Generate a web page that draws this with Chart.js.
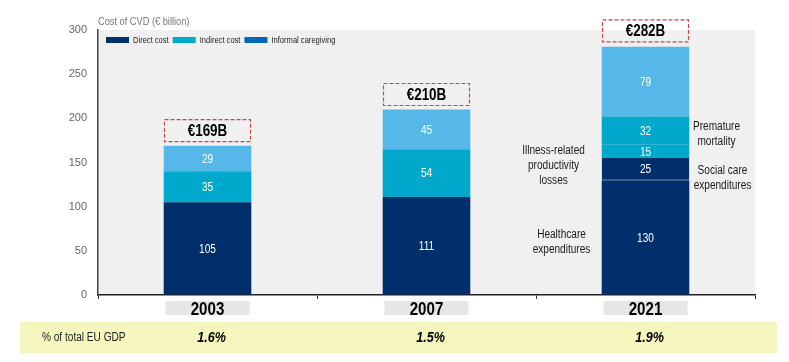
<!DOCTYPE html>
<html>
<head>
<meta charset="utf-8">
<script src="https://cdn.jsdelivr.net/npm/chart.js@4.4.1/dist/chart.umd.min.js"></script>
<style>
    html, body { margin: 0; padding: 0; background: #fff; }
    #contenedor { width: 789px; height: 362px; position: relative; }
</style>
</head>
<body>
<div id="contenedor"><canvas id="graficaCVD"></canvas></div>
<script>
// Datos
const anios = ['2003', '2007', '2021'];
const sanidad = [105, 111, 130];
const cuidadosSociales = [null, null, 25];
const perdidasProductividad = [null, null, 15];
const mortalidadPrematura = [35, 54, 32];
const cuidadoInformal = [29, 45, 79];
const totalesValor = [169, 210, 282];
const totalesTexto = ['€169B', '€210B', '€282B'];
const pibUE = ['1.6%', '1.5%', '1.9%'];
const leyendaTextos = ['Direct cost', 'Indirect cost', 'Informal caregiving'];

const AZUL_OSCURO = '#002f6b';
const TURQUESA = '#00a9cb';
const AZUL_CLARO = '#56b8e8';
const LEYENDA_COLORES = [AZUL_OSCURO, '#00a9cb', '#0068b5'];
const FUENTE = "'Liberation Sans', Arial, sans-serif";
const ESTRECHO = 0.84; // el original usa una fuente estrecha

// Etiquetas de texto junto a la barra de 2021
const anotaciones = [
    { lineas: ['Premature', 'mortality'], dx: 71, yValor: 182 },
    { lineas: ['Social care', 'expenditures'], dx: 77, yValor: 132.5 },
    { lineas: ['Illness-related', 'productivity', 'losses'], dx: -92, yValor: 146 },
    { lineas: ['Healthcare', 'expenditures'], dx: -84, yValor: 60 }
];

// texto comprimido en horizontal
function texto(ctx, t, x, y) {
    ctx.save();
    ctx.translate(x, y);
    ctx.scale(ESTRECHO, 1);
    ctx.fillText(t, 0, 0);
    ctx.restore();
}

const pluginFondo = {
    id: 'fondo',
    beforeDraw(chart) {
        const { ctx, chartArea: a } = chart;
        ctx.save();
        ctx.fillStyle = '#f0f0f0';
        ctx.fillRect(a.left, a.top, a.right - a.left, a.bottom - a.top);
        ctx.restore();
    }
};

const pluginTextos = {
    id: 'textos',
    afterDraw(chart) {
        const { ctx, chartArea: a } = chart;
        const xS = chart.scales.x, yS = chart.scales.y;
        ctx.save();

        // valores dentro de cada segmento
        ctx.fillStyle = '#fff';
        ctx.font = '12px ' + FUENTE;
        ctx.textAlign = 'center';
        ctx.textBaseline = 'middle';
        chart.data.datasets.forEach((ds, i) => {
            chart.getDatasetMeta(i).data.forEach((barra, j) => {
                const v = ds.data[j];
                if (v == null) return;
                const p = barra.getProps(['x', 'y', 'base'], true);
                texto(ctx, String(v), p.x, (p.y + p.base) / 2 + 1);
            });
        });

        // totales con recuadro discontinuo
        totalesTexto.forEach((t, j) => {
            const x = xS.getPixelForValue(j);
            const yBase = yS.getPixelForValue(totalesValor[j]) - 4;
            ctx.setLineDash([4, 2]);
            ctx.strokeStyle = '#c9454a';
            ctx.lineWidth = 1.2;
            ctx.strokeRect(x - 43, yBase - 22, 86, 22);
            ctx.setLineDash([]);
            ctx.fillStyle = '#000';
            ctx.font = 'bold 16px ' + FUENTE;
            texto(ctx, t, x, yBase - 10);
        });

        // anotaciones de 2021
        ctx.fillStyle = '#1a1a1a';
        ctx.font = '12px ' + FUENTE;
        const x21 = xS.getPixelForValue(2);
        anotaciones.forEach(an => {
            const yc = yS.getPixelForValue(an.yValor);
            const y0 = yc - (an.lineas.length - 1) * 15 / 2;
            an.lineas.forEach((l, k) => texto(ctx, l, x21 + an.dx, y0 + k * 15));
        });

        // leyenda dentro del área
        ctx.font = '9px ' + FUENTE;
        ctx.textAlign = 'left';
        let lx = a.left + 8;
        const ly = a.top + 7;
        leyendaTextos.forEach((t, i) => {
            ctx.fillStyle = LEYENDA_COLORES[i];
            ctx.fillRect(lx, ly, 23, 6);
            ctx.fillStyle = '#222';
            texto(ctx, t, lx + 27, ly + 3.5);
            lx += 27 + ctx.measureText(t).width * ESTRECHO + 4;
        });

        // título del eje
        ctx.fillStyle = '#777';
        ctx.font = '11px ' + FUENTE;
        texto(ctx, 'Cost of CVD (€ billion)', a.left, a.top - 8);

        // años en cajas grises
        ctx.textAlign = 'center';
        anios.forEach((an, j) => {
            const x = xS.getPixelForValue(j);
            ctx.fillStyle = '#e6e6e6';
            ctx.fillRect(x - 42, 301, 84, 14);
            ctx.fillStyle = '#000';
            ctx.font = 'bold 18px ' + FUENTE;
            texto(ctx, an, x, 310);
        });

        // franja del PIB
        ctx.fillStyle = '#f5f5be';
        ctx.fillRect(20, 322, 757, 31);
        ctx.fillStyle = '#222';
        ctx.font = '12px ' + FUENTE;
        ctx.textAlign = 'left';
        texto(ctx, '% of total EU GDP', 42, 338);
        ctx.textAlign = 'center';
        ctx.fillStyle = '#000';
        ctx.font = 'italic bold 15px ' + FUENTE;
        pibUE.forEach((p, j) => texto(ctx, p, xS.getPixelForValue(j) + 4, 338));

        ctx.restore();
    }
};

const serie = (label, data, color) => ({
    label, data, backgroundColor: color, borderWidth: 0,
    barPercentage: 0.4, categoryPercentage: 1
});

new Chart(document.getElementById('graficaCVD').getContext('2d'), {
    type: 'bar',
    data: {
        labels: anios,
        datasets: [
            serie('Healthcare expenditures', sanidad, AZUL_OSCURO),
            Object.assign(serie('Social care expenditures', cuidadosSociales, AZUL_OSCURO),
                { borderWidth: { bottom: 1 }, borderColor: '#24477d', borderSkipped: false }),
            serie('Illness-related productivity losses', perdidasProductividad, TURQUESA),
            serie('Premature mortality', mortalidadPrematura, TURQUESA),
            serie('Informal caregiving', cuidadoInformal, AZUL_CLARO)
        ]
    },
    options: {
        responsive: true, maintainAspectRatio: false, animation: false,
        layout: { padding: { top: 30, right: 34, left: 0, bottom: 0 } },
        plugins: { legend: { display: false }, tooltip: { enabled: false } },
        scales: {
            x: {
                stacked: true,
                afterFit: s => { s.height = 67; },
                ticks: { display: false },
                grid: { display: true, drawOnChartArea: false, drawTicks: true, tickLength: 4, color: '#333', offset: true },
                border: { display: true, color: '#222', width: 1.5 }
            },
            y: {
                stacked: true, min: 0, max: 300,
                afterFit: s => { s.width = 98; },
                ticks: { stepSize: 50, color: '#666', padding: 11, font: { size: 11, family: FUENTE } },
                grid: { display: true, drawOnChartArea: false, drawTicks: false },
                border: { display: true, color: '#444', width: 1.5 }
            }
        }
    },
    plugins: [pluginFondo, pluginTextos]
});
</script>
</body>
</html>
